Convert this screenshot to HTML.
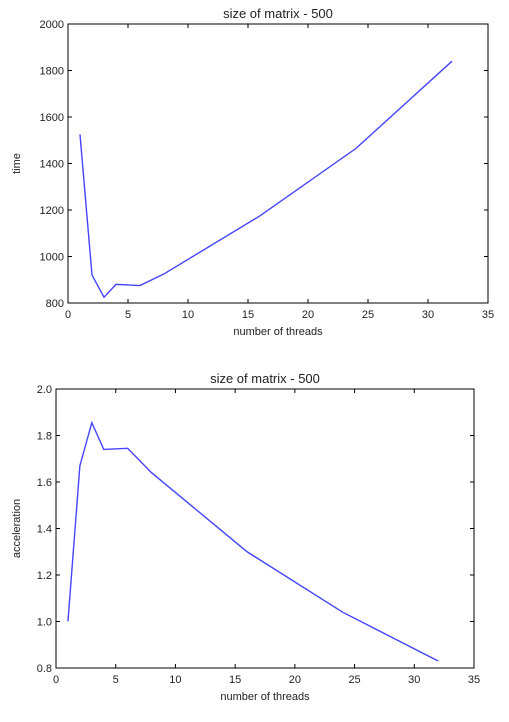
<!DOCTYPE html>
<html><head><meta charset="utf-8"><style>
body{margin:0;background:#fff;}
svg text{font-family:"Liberation Sans","DejaVu Sans",sans-serif;fill:#222;}
</style></head><body>
<svg id="s" width="509" height="717"></svg>
<script>
const threads=[1,2,3,4,6,8,16,24,32];
const timeVals=[1525,920,825,880,875,925,1175,1465,1840];
const accelVals=[1.0,1.67,1.855,1.74,1.745,1.64,1.30,1.04,0.83];
const xTicks=[0,5,10,15,20,25,30,35];
const timeTicks=[800,1000,1200,1400,1600,1800,2000];
const accelTicks=[0.8,1.0,1.2,1.4,1.6,1.8,2.0];
const NS='http://www.w3.org/2000/svg';
const svg=document.getElementById('s');
function mk(tag,at,parent){const e=document.createElementNS(NS,tag);for(const k in at)e.setAttribute(k,at[k]);(parent||svg).appendChild(e);return e;}
function chart(name,L,R,T,B,yMin,yMax,yTicks,yFmt,vals,ylab){
  const g=mk('g',{});
  
  
  const xs=v=>L+(v-0)/(35-0)*(R-L);
  const ys=v=>B-(v-yMin)/(yMax-yMin)*(B-T);
  const fr=mk('rect',{x:L,y:T,width:R-L,height:B-T,fill:'none',stroke:'#000','stroke-width':1},g);
  
  xTicks.forEach(t=>{const x=xs(t);
    mk('line',{x1:x,x2:x,y1:B,y2:B-4,stroke:'#000'},g);
    mk('line',{x1:x,x2:x,y1:T,y2:T+4,stroke:'#000'},g);
    const tx=mk('text',{x:x,y:B+15,'text-anchor':'middle','font-size':11},g);tx.textContent=t;
    });
  yTicks.forEach(t=>{const y=ys(t);
    mk('line',{x1:L,x2:L+4,y1:y,y2:y,stroke:'#000'},g);
    mk('line',{x1:R,x2:R-4,y1:y,y2:y,stroke:'#000'},g);
    const tx=mk('text',{x:L-4,y:y+4,'text-anchor':'end','font-size':11},g);tx.textContent=yFmt(t);
    });
  const pts=threads.map((t,i)=>xs(t)+','+ys(vals[i])).join(' ');
  const pl=mk('polyline',{points:pts,fill:'none',stroke:'#4444ff','stroke-width':1.4},g);
  
  const ti=mk('text',{x:(L+R)/2,y:T-6,'text-anchor':'middle','font-size':13},g);ti.textContent='size of matrix - 500';
  
  const xl=mk('text',{x:(L+R)/2,y:B+32,'text-anchor':'middle','font-size':11},g);xl.textContent='number of threads';
  
  const yl=mk('text',{x:0,y:0,'text-anchor':'middle','font-size':11,transform:`translate(${name==='time-chart'?20:20},${(T+B)/2}) rotate(-90)`},g);yl.textContent=ylab;
  
}
chart('time-chart',68,488,24,303,800,2000,timeTicks,t=>t,timeVals,'time');
chart('acceleration-chart',56,474,389,668,0.8,2.0,accelTicks,t=>t.toFixed(1),accelVals,'acceleration');
</script>
</body></html>
